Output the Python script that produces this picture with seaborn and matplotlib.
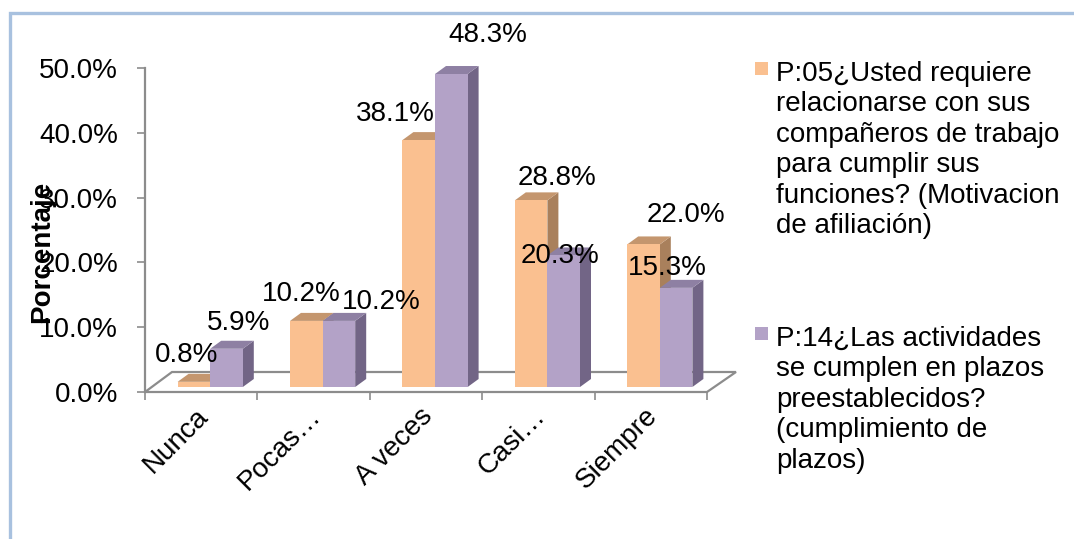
import numpy as np
import pandas as pd
import matplotlib
matplotlib.use("Agg")
import matplotlib.pyplot as plt
import seaborn as sns
from matplotlib.patches import Polygon, Rectangle
from matplotlib.ticker import FuncFormatter
from matplotlib.transforms import ScaledTranslation

# ---------------- data ----------------
categories = ["Nunca", "Pocas…", "A veces", "Casi…", "Siempre"]
series_names = [
    "P:05¿Usted requiere\nrelacionarse con sus\ncompañeros de trabajo\npara cumplir sus\nfunciones? (Motivacion\nde afiliación)",
    "P:14¿Las actividades\nse cumplen en plazos\npreestablecidos?\n(cumplimiento de\nplazos)",
]
p05 = [0.8, 10.2, 38.1, 28.8, 22.0]
p14 = [5.9, 10.2, 48.3, 20.3, 15.3]
y_ticks = [0, 10, 20, 30, 40, 50]
y_label = "Porcentaje"

# ---------------- styling ----------------
front_colors = ["#FAC090", "#B3A2C7"]
top_colors = ["#C4966E", "#8E80A3"]
side_colors = ["#A9805C", "#726586"]
axis_gray = "#8C8C8C"
# label offsets (pixels) relative to the top centre of each bar front face
label_offsets = [
    [(-7, 27), (-5, 27), (-23, 26), (26, 22), (42, 29)],
    [(12, 26), (42, 19), (37, 39), (-4, -1), (-9, 20)],
]
bar_shift = (9, 5)      # px shift of bars inside the 3D floor
depth = (11, 8)         # px depth of bars
floor_depth_l = (27, 20)
floor_depth_r = (29, 20)
legend_tops = [61, 326]  # px from top for each legend entry

df = pd.DataFrame({
    "Categoria": categories * 2,
    "Serie": [series_names[0]] * len(categories) + [series_names[1]] * len(categories),
    "Porcentaje": p05 + p14,
})

sns.set_theme(style="white")
plt.rcParams["font.family"] = ["Liberation Sans", "DejaVu Sans"]

W, H = 1074, 539
fig = plt.figure(figsize=(W / 100, H / 100), dpi=100)
fig.patch.set_facecolor("white")
ax = fig.add_axes([145 / W, 147 / H, 562 / W, 324 / H])
ax.set_facecolor("none")

sns.barplot(data=df, x="Categoria", y="Porcentaje", hue="Serie",
            order=categories, hue_order=series_names, palette=front_colors,
            width=0.58, saturation=1, errorbar=None, ax=ax, legend=False)

ax.set_xlim(-0.5, len(categories) - 0.5)
ax.set_ylim(0, 50)

# pixel -> data conversions
px_x = (ax.transData.transform((1, 0))[0] - ax.transData.transform((0, 0))[0])
px_y = (ax.transData.transform((0, 1))[1] - ax.transData.transform((0, 0))[1])
dx = lambda p: p / px_x
dy = lambda p: p / px_y

# floor
x0f, x1f = ax.get_xlim()
floor = Polygon([(x0f, 0), (x1f, 0),
                 (x1f + dx(floor_depth_r[0]), dy(floor_depth_r[1])),
                 (x0f + dx(floor_depth_l[0]), dy(floor_depth_l[1]))],
                closed=True, facecolor="white", edgecolor=axis_gray,
                linewidth=1.6, zorder=1, clip_on=False)
ax.add_patch(floor)

# 3D bars
for j, cont in enumerate(ax.containers):
    for i, bar in enumerate(cont):
        bar.set_x(bar.get_x() + dx(bar_shift[0]))
        bar.set_y(dy(bar_shift[1]))
        bar.set_zorder(3 + 2 * j)
        bar.set_edgecolor("none")
        bar.set_clip_on(False)
        bx0 = bar.get_x()
        bx1 = bx0 + bar.get_width()
        by0 = bar.get_y()
        by1 = by0 + bar.get_height()
        ddx, ddy = dx(depth[0]), dy(depth[1])
        side = Polygon([(bx1, by0), (bx1 + ddx, by0 + ddy), (bx1 + ddx, by1 + ddy), (bx1, by1)],
                       closed=True, facecolor=side_colors[j], edgecolor="none",
                       zorder=2 + 2 * j, clip_on=False)
        top = Polygon([(bx0, by1), (bx1, by1), (bx1 + ddx, by1 + ddy), (bx0 + ddx, by1 + ddy)],
                      closed=True, facecolor=top_colors[j], edgecolor="none",
                      zorder=2 + 2 * j, clip_on=False)
        ax.add_patch(side)
        ax.add_patch(top)
        vals = p05 if j == 0 else p14
        ox, oy = label_offsets[j][i]
        ax.annotate(f"{vals[i]:.1f}%", xy=((bx0 + bx1) / 2, by1), xytext=(ox, oy),
                    textcoords="offset pixels", ha="center", va="center",
                    fontsize=20, color="black", zorder=10, annotation_clip=False)

# spines
for s in ["top", "right", "bottom"]:
    ax.spines[s].set_visible(False)
ax.spines["left"].set_color(axis_gray)
ax.spines["left"].set_linewidth(1.6)
ax.spines["left"].set_bounds(0, 50)

# y axis
ax.set_yticks(y_ticks)
ax.yaxis.set_major_formatter(FuncFormatter(lambda v, _: f"{v:.1f}%"))
ax.tick_params(axis="y", left=True, length=6, width=1.2, color=axis_gray,
               pad=13.5, labelsize=20, labelcolor="black", direction="out")

# x axis
ax.set_xticks(range(len(categories)))
ax.set_xticklabels(categories)
ax.set_xticks(np.arange(-0.5, len(categories), 1), minor=True)
ax.tick_params(axis="x", which="major", bottom=True, length=0, pad=14.5,
               labelsize=20, labelcolor="black")
ax.tick_params(axis="x", which="minor", bottom=True, length=6, width=1.2,
               color=axis_gray, direction="out")
shift = ScaledTranslation(3 / 100, 0, fig.dpi_scale_trans)
for lab in ax.get_xticklabels():
    lab.set_rotation(45)
    lab.set_ha("right")
    lab.set_va("center")
    lab.set_rotation_mode("anchor")
    lab.set_transform(lab.get_transform() + shift)
ax.set_xlabel("")

ax.set_ylabel(y_label, fontsize=20, fontweight="bold", color="black")
ax.yaxis.label.set_va("center")
ax.yaxis.set_label_coords(-0.1833, 0.4336)

# legend (drawn entry by entry so that the marker sits at the first line)
for j, name in enumerate(series_names):
    color = ax.containers[j][0].get_facecolor()
    top_px = legend_tops[j]
    fig.text(776 / W, 1 - top_px / H, name, ha="left", va="top",
             fontsize=20, linespacing=1.22, color="black")
    fig.patches.append(Rectangle((755 / W, 1 - (top_px + 14) / H), 13 / W, 13 / H,
                                 transform=fig.transFigure, facecolor=color,
                                 edgecolor="none"))

# outer frame
fig.patches.append(Rectangle((10 / W, -0.05), 1.1, (H - 13) / H + 0.05,
                             transform=fig.transFigure, facecolor="none",
                             edgecolor="#A8C1DF", linewidth=2.4, zorder=0))

fig.savefig("out.png", dpi=100)
